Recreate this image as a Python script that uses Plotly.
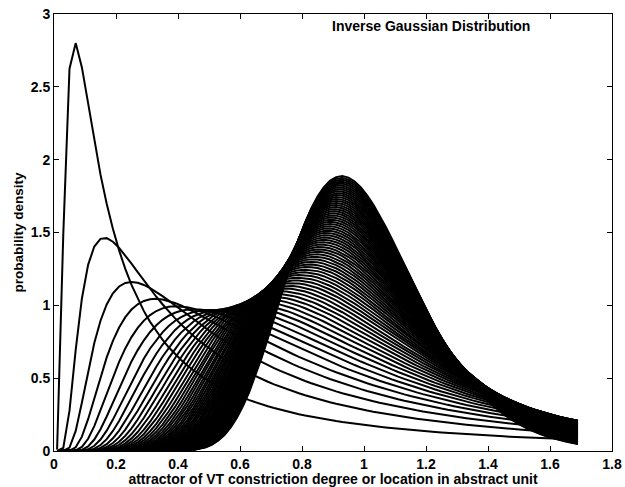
import numpy as np
import plotly.graph_objects as go

# Inverse Gaussian family: common mean, shape parameter varies per curve
mean_value = 1.0
shape_values = [0.2, 0.5, 0.8, 1.1, 1.4, 1.7, 2.0, 2.3, 2.6, 2.9, 3.2, 3.5, 3.8, 4.1,
                4.4, 4.7, 5.0, 5.3, 5.6, 5.9, 6.2, 6.5, 6.8, 7.1, 7.4, 7.7, 8.0, 8.3,
                8.6, 8.9, 9.2, 9.5, 9.8, 10.1, 10.4, 10.7, 11.0, 11.3, 11.6, 11.9,
                12.2, 12.5, 12.8, 13.1, 13.4, 13.7, 14.0, 14.3, 14.6, 14.9, 15.2,
                15.5, 15.8, 16.1, 16.4, 16.7, 17.0, 17.3, 17.6, 17.9, 18.2, 18.5,
                18.8, 19.1, 19.4, 19.7, 20.0]
x_start, x_stop, x_step = 0.01, 1.69, 0.02

x_tick_vals = [0, 0.2, 0.4, 0.6, 0.8, 1.0, 1.2, 1.4, 1.6, 1.8]
x_tick_text = ["0", "0.2", "0.4", "0.6", "0.8", "1", "1.2", "1.4", "1.6", "1.8"]
y_tick_vals = [0, 0.5, 1.0, 1.5, 2.0, 2.5, 3.0]
y_tick_text = ["0", "0.5", "1", "1.5", "2", "2.5", "3"]

title_text = "Inverse Gaussian Distribution"
x_label = "attractor of VT constriction degree or location in abstract unit"
y_label = "probability density"

x = np.round(np.arange(x_start, x_stop + x_step / 2, x_step), 4)

xs, ys = [], []
for lam in shape_values:
    y = np.sqrt(lam / (2 * np.pi * x ** 3)) * np.exp(-lam * (x - mean_value) ** 2 / (2 * mean_value ** 2 * x))
    xs.extend(list(x) + [None])
    ys.extend(list(y) + [None])

fig = go.Figure()
fig.add_trace(go.Scatter(x=xs, y=ys, mode="lines",
                         line=dict(color="black", width=2),
                         showlegend=False, hoverinfo="skip"))

font_family = "Liberation Sans, Arial, Helvetica, sans-serif"
axis_common = dict(showline=True, linecolor="black", linewidth=1, mirror="allticks",
                   ticks="inside", ticklen=5, tickcolor="black", tickwidth=1,
                   showgrid=False, zeroline=False, automargin=False,
                   ticklabeloverflow="allow",
                   tickfont=dict(family=font_family, size=14, color="black", weight="bold"))

fig.update_layout(
    width=625, height=487,
    margin=dict(l=54, r=13, t=14, b=36),
    paper_bgcolor="white", plot_bgcolor="white",
    xaxis=dict(range=[0, 1.8], tickvals=x_tick_vals, ticktext=x_tick_text,
               title=dict(text=x_label, standoff=0,
                          font=dict(family=font_family, size=14, color="black", weight="bold")),
               **axis_common),
    yaxis=dict(range=[0, 3], tickvals=y_tick_vals, ticktext=y_tick_text,
               title=dict(text=y_label, standoff=4,
                          font=dict(family=font_family, size=13.5, color="black", weight="bold")),
               **axis_common),
    annotations=[dict(x=0.89, y=2.92, xref="x", yref="y", text=title_text,
                      showarrow=False, xanchor="left", yanchor="middle",
                      font=dict(family=font_family, size=14, color="black", weight="bold"))],
)

fig.write_html("out.html", config={"displayModeBar": False},
               post_script="document.body.style.margin='0';")
